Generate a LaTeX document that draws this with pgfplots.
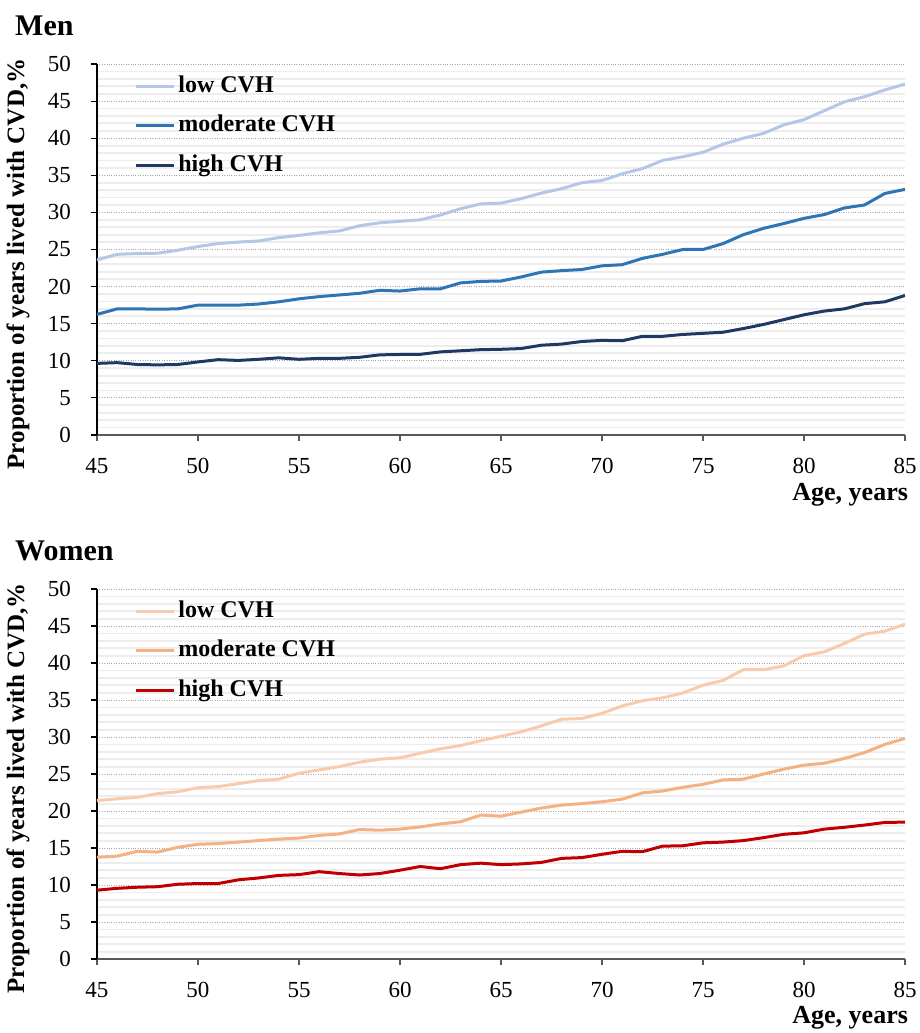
\documentclass[border=0pt]{standalone}
\usepackage{fontspec}
\setmainfont{Liberation Serif}
\usepackage{pgfplots}
\pgfplotsset{compat=1.18}
\definecolor{mlow}{RGB}{180,199,231}
\definecolor{mmod}{RGB}{46,117,182}
\definecolor{mhigh}{RGB}{31,56,100}
\definecolor{wlow}{RGB}{248,203,173}
\definecolor{wmod}{RGB}{244,177,131}
\definecolor{whigh}{RGB}{192,0,0}
\definecolor{axgray}{RGB}{89,89,89}
\pgfplotsset{
  cvh/.style={
    scale only axis, width=808pt,
    xmin=45, xmax=85, ymin=0, ymax=50,
    xtick={45,50,...,85}, ytick={0,5,...,50},
    minor y tick num=4, minor tick length=0pt,
    ymajorgrids, yminorgrids,
    major grid style={dotted, color=gray!70, line width=0.9pt},
    minor grid style={color=gray!14, line width=1.8pt},
    axis x line*=bottom, axis y line*=left,
    x axis line style={-, color=axgray, line width=1.5pt},
    y axis line style={-, color=black, line width=1.3pt},
    tick align=outside, major tick length=6pt,
    every tick/.style={color=black, line width=1.1pt},
    xtick style={color=axgray},
    /pgf/number format/assume math mode=true,
    ticklabel style={font=\fontsize{23}{27}\selectfont},
    yticklabel style={anchor=east, inner sep=0pt, xshift=-20pt},
    xticklabel style={yshift=-14pt},
    every axis y label/.style={at={(axis description cs:-0.0978,0.461)}, rotate=90, anchor=center, font=\bfseries\fontsize{25}{28}\selectfont},
    every axis x label/.style={anchor=east, font=\bfseries\fontsize{26}{29}\selectfont},
    ylabel={Proportion of years lived with CVD,\%},
    xlabel={Age, years},
    legend cell align=left,
    legend image code/.code={\draw[#1] (0pt,0pt) -- (38pt,0pt);},
    legend style={at={(rel axis cs:0.046,0.97)}, anchor=north west, draw=none, fill=none,
      inner sep=0pt, row sep=17.5pt, column sep=3pt,
      font=\bfseries\fontsize{24}{27}\selectfont,
      nodes={inner sep=0pt, text height=17pt, text depth=5pt}},
    every axis plot/.append style={line width=3pt, no markers, line join=round},
  }
}
\begin{document}
\begin{tikzpicture}
\path[use as bounding box] (-97pt,-74pt) rectangle (822pt,959pt);
% Men
\begin{axis}[cvh, height=371pt, at={(0pt,524pt)}, anchor=south west,
  x label style={at={(axis description cs:1.008,-0.162)}}]
\addplot[color=mlow] coordinates {
(45,23.6)(46,24.35)(47,24.45)(48,24.5)(49,24.9)(50,25.4)(51,25.8)(52,26.0)(53,26.15)(54,26.6)
(55,26.9)(56,27.25)(57,27.5)(58,28.2)(59,28.6)(60,28.8)(61,29.0)(62,29.65)(63,30.5)(64,31.15)
(65,31.25)(66,31.85)(67,32.6)(68,33.2)(69,34.0)(70,34.3)(71,35.2)(72,35.9)(73,37.0)(74,37.5)
(75,38.1)(76,39.2)(77,40.0)(78,40.65)(79,41.8)(80,42.5)(81,43.7)(82,44.9)(83,45.6)(84,46.5)(85,47.3)};
\addlegendentry{low CVH}
\addplot[color=mmod] coordinates {
(45,16.25)(46,17.0)(47,17.0)(48,16.95)(49,17.0)(50,17.5)(51,17.5)(52,17.5)(53,17.65)(54,17.95)
(55,18.35)(56,18.65)(57,18.87)(58,19.1)(59,19.5)(60,19.4)(61,19.7)(62,19.7)(63,20.5)(64,20.7)
(65,20.75)(66,21.3)(67,21.95)(68,22.15)(69,22.3)(70,22.8)(71,22.95)(72,23.8)(73,24.35)(74,25.0)
(75,25.0)(76,25.8)(77,27.0)(78,27.85)(79,28.5)(80,29.2)(81,29.7)(82,30.6)(83,31.0)(84,32.55)(85,33.1)};
\addlegendentry{moderate CVH}
\addplot[color=mhigh] coordinates {
(45,9.65)(46,9.75)(47,9.5)(48,9.45)(49,9.5)(50,9.85)(51,10.15)(52,10.05)(53,10.2)(54,10.4)
(55,10.2)(56,10.33)(57,10.33)(58,10.47)(59,10.8)(60,10.85)(61,10.87)(62,11.2)(63,11.35)(64,11.5)
(65,11.55)(66,11.65)(67,12.1)(68,12.25)(69,12.6)(70,12.75)(71,12.7)(72,13.3)(73,13.3)(74,13.55)
(75,13.7)(76,13.85)(77,14.35)(78,14.9)(79,15.55)(80,16.2)(81,16.7)(82,17.0)(83,17.7)(84,17.95)(85,18.8)};
\addlegendentry{high CVH}
\end{axis}
% Women
\begin{axis}[cvh, height=370pt, at={(0pt,0pt)}, anchor=south west,
  x label style={at={(axis description cs:1.008,-0.159)}}]
\addplot[color=wlow] coordinates {
(45,21.4)(46,21.65)(47,21.85)(48,22.35)(49,22.6)(50,23.15)(51,23.3)(52,23.7)(53,24.1)(54,24.3)
(55,25.1)(56,25.55)(57,26.0)(58,26.6)(59,27.0)(60,27.2)(61,27.8)(62,28.4)(63,28.85)(64,29.5)
(65,30.1)(66,30.7)(67,31.5)(68,32.4)(69,32.5)(70,33.2)(71,34.2)(72,34.9)(73,35.3)(74,35.95)
(75,37.0)(76,37.65)(77,39.1)(78,39.1)(79,39.6)(80,41.0)(81,41.5)(82,42.65)(83,43.9)(84,44.3)(85,45.25)};
\addlegendentry{low CVH}
\addplot[color=wmod] coordinates {
(45,13.75)(46,13.9)(47,14.55)(48,14.45)(49,15.1)(50,15.5)(51,15.6)(52,15.8)(53,16.0)(54,16.2)
(55,16.35)(56,16.7)(57,16.9)(58,17.5)(59,17.4)(60,17.55)(61,17.85)(62,18.25)(63,18.55)(64,19.45)
(65,19.3)(66,19.85)(67,20.4)(68,20.8)(69,21.0)(70,21.25)(71,21.6)(72,22.45)(73,22.7)(74,23.2)
(75,23.6)(76,24.2)(77,24.3)(78,25.0)(79,25.65)(80,26.2)(81,26.45)(82,27.1)(83,27.9)(84,29.0)(85,29.8)};
\addlegendentry{moderate CVH}
\addplot[color=whigh] coordinates {
(45,9.3)(46,9.55)(47,9.7)(48,9.77)(49,10.1)(50,10.2)(51,10.2)(52,10.7)(53,10.95)(54,11.3)
(55,11.4)(56,11.8)(57,11.55)(58,11.35)(59,11.55)(60,12.0)(61,12.5)(62,12.2)(63,12.75)(64,12.95)
(65,12.75)(66,12.85)(67,13.05)(68,13.6)(69,13.7)(70,14.15)(71,14.55)(72,14.5)(73,15.25)(74,15.3)
(75,15.7)(76,15.8)(77,16.0)(78,16.4)(79,16.85)(80,17.05)(81,17.55)(82,17.8)(83,18.1)(84,18.45)(85,18.5)};
\addlegendentry{high CVH}
\end{axis}
\node[anchor=base west, font=\bfseries\fontsize{30}{34}\selectfont, inner sep=0pt] at (-82pt,923pt) {Men};
\node[anchor=base west, font=\bfseries\fontsize{30}{34}\selectfont, inner sep=0pt] at (-82pt,398pt) {Women};
\end{tikzpicture}
\end{document}
